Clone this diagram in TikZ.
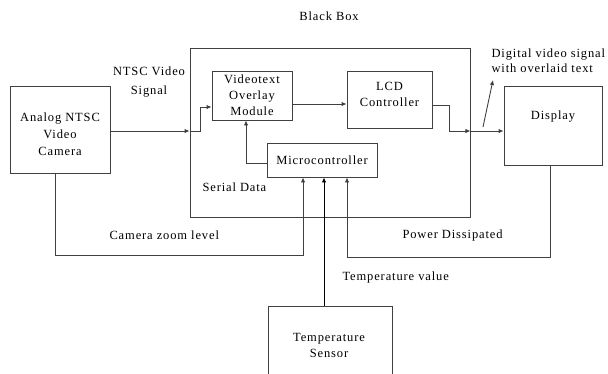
\documentclass[tikz,border=0pt]{standalone}
\usepackage{fontspec}
\setmainfont{Liberation Serif}[LetterSpace=7]
\usetikzlibrary{arrows.meta}

\begin{document}
\begin{tikzpicture}[x=1pt,y=-1pt,
		font=\fontsize{12.5}{16}\selectfont,
		box/.style={draw=black!75,line width=0.9pt,inner sep=0pt},
		sig/.style={draw=black!75,line width=0.9pt,-{Latex[length=5pt,width=4.5pt]}}]
		\useasboundingbox (0,0) rectangle (608,373);
		% the black box and its parts
		\node[box,minimum width=280pt,minimum height=169pt] (bb) at (330,132.5) {};
		\node (bbtxt) at (329,16) {Black Box};
		\node[box,minimum width=80pt,minimum height=49pt,align=center] (vot) at (252,95.5) {Videotext\\Overlay\\Module};
		\node[box,minimum width=85pt,minimum height=57pt] (lcd) at (389.5,99.5) {};
		\node[align=center] (lcdtxt) at (389.5,94) {LCD\\Controller};
		\node[box,minimum width=110pt,minimum height=34pt] (mcu) at (322,160) {Microcontroller};
		% outside blocks
		\node[box,minimum width=100pt,minimum height=87pt] (cam) at (60,129.5) {};
		\node[align=center,font=\fontsize{12.5}{17}\selectfont] (camtxt) at (60,134) {Analog NTSC\\Video\\Camera};
		\node[box,minimum width=98pt,minimum height=79pt] (disp) at (553,125.5) {};
		\node (disptxt) at (553,117) {Display};
		\node[box,minimum width=124pt,minimum height=80pt] (sens) at (330,346) {};
		\node[align=center] (senstxt) at (329,345.5) {Temperature\\Sensor};
		% video path
		\draw[sig] (cam.east |- 0,131) -- (bb.west |- 0,131);
		\draw[sig] (bb.west |- 0,131) -- ++(11,0) |- ([yshift=-11.5pt]vot.west);
		\draw[sig] ([yshift=-8.5pt]vot.east) -- ([yshift=-8.5pt]vot.east -| lcd.west);
		\draw[sig] ([yshift=-5.5pt]lcd.east) -- ++(17,0) |- (bb.east |- 0,131);
		\draw[sig] (bb.east |- 0,131) -- (disp.west |- 0,131);
		\coordinate (dvs) at (483,127);
		\coordinate (dvsend) at (493,80);
		\draw[sig] (dvs) -- (dvsend);
		\node[anchor=west,align=left,font=\fontsize{12.5}{15}\selectfont] (dvstxt) at (488,60.5) {Digital video signal\\with overlaid text};
		\node[align=center,font=\fontsize{12.5}{19}\selectfont] (ntsctxt) at (149,82.5) {NTSC Video\\Signal};
		% serial data into the microcontroller
		\draw[sig] ([yshift=-3pt]mcu.west) -| ([xshift=-6pt]vot.south);
		\coordinate (zoomc) at (303,255);
		\coordinate (powc) at (347,257);
		\draw[sig] ([xshift=-5pt]cam.south) |- (zoomc) -- (zoomc |- mcu.south);
		\draw[sig] ([xshift=-3pt]disp.south) |- (powc) -- (powc |- mcu.south);
		\draw[sig,draw=black] ([xshift=-6pt]sens.north) -- ([xshift=-6pt]sens.north |- mcu.south);
		\node[anchor=west] (sertxt) at (199,187) {Serial Data};
		\node[anchor=west] (zoomtxt) at (106,235) {Camera zoom level};
		\node[anchor=west] (powtxt) at (399,235) {Power Dissipated};
		\node[anchor=west] (temptxt) at (339,277) {Temperature value};
	\end{tikzpicture}
\end{document}
